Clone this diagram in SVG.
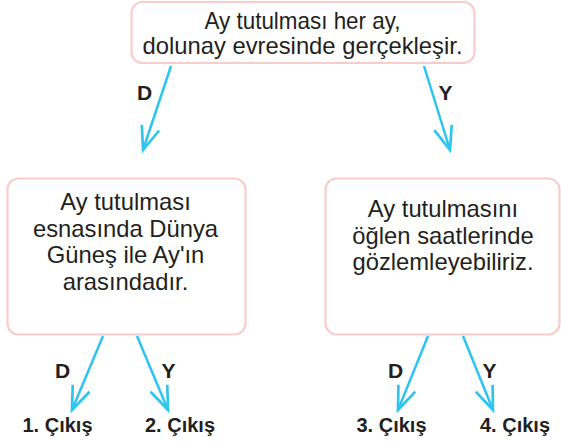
<svg xmlns="http://www.w3.org/2000/svg" width="561" height="443" viewBox="0 0 561 443">
<style>
.box{fill:#ffffff;stroke:#f9cccc;stroke-width:2.2}
.t{font-family:"Liberation Sans",Arial,sans-serif;font-size:23.8px;fill:#231f20;text-anchor:middle}
.tt{font-size:23.2px}
.b{font-family:"Liberation Sans",Arial,sans-serif;font-weight:bold;fill:#231f20;text-anchor:middle}
.lbl{font-size:21px}
.out{font-size:20px}
.arr{stroke:#2ec4f0;stroke-width:2.5;fill:none;marker-end:url(#ah)}
</style>
<defs>
<marker id="ah" markerUnits="userSpaceOnUse" markerWidth="30" markerHeight="30" viewBox="-25 -12 28 24" refX="0" refY="0" orient="auto">
<path d="M-22,-8.5 L0,0 L-22,8.5" fill="none" stroke="#2ec4f0" stroke-width="2.5" stroke-linejoin="miter"/>
</marker>
</defs>
<rect width="561" height="443" fill="#ffffff"/>
<g id="top">
<rect class="box" x="131.5" y="2" width="343" height="61" rx="11"/>
<text class="t tt" x="302.5" y="29" textLength="196" lengthAdjust="spacingAndGlyphs">Ay tutulması her ay,</text>
<text class="t tt" x="302.5" y="54" textLength="320" lengthAdjust="spacingAndGlyphs">dolunay evresinde gerçekleşir.</text>
</g>
<g id="left">
<rect class="box" x="7.5" y="178.5" width="238" height="156" rx="11"/>
<text class="t" x="125.5" y="210">Ay tutulması</text>
<text class="t" x="125.5" y="236.5">esnasında Dünya</text>
<text class="t" x="125.5" y="263">Güneş ile Ay'ın</text>
<text class="t" x="125.5" y="289.5">arasındadır.</text>
</g>
<g id="right">
<rect class="box" x="325.5" y="178.5" width="234" height="156" rx="11"/>
<text class="t" x="443" y="217">Ay tutulmasını</text>
<text class="t" x="443" y="243.5">öğlen saatlerinde</text>
<text class="t" x="443" y="270">gözlemleyebiliriz.</text>
</g>
<g id="out1"><text class="b out" x="57.5" y="432">1. Çıkış</text></g>
<g id="out2"><text class="b out" x="180" y="432">2. Çıkış</text></g>
<g id="out3"><text class="b out" x="391.5" y="432">3. Çıkış</text></g>
<g id="out4"><text class="b out" x="515" y="432">4. Çıkış</text></g>
<g id="connectors">
<line class="arr" x1="171" y1="66" x2="143" y2="150"/>
<line class="arr" x1="424" y1="66" x2="450" y2="150"/>
<line class="arr" x1="103" y1="336" x2="72" y2="410"/>
<line class="arr" x1="137" y1="336" x2="168" y2="410"/>
<line class="arr" x1="428" y1="336" x2="398" y2="410"/>
<line class="arr" x1="463" y1="336" x2="493" y2="410"/>
<text class="b lbl" x="144.5" y="99.5">D</text>
<text class="b lbl" x="445.5" y="99.5">Y</text>
<text class="b lbl" x="62.5" y="378">D</text>
<text class="b lbl" x="168.5" y="378">Y</text>
<text class="b lbl" x="395.5" y="378">D</text>
<text class="b lbl" x="489.5" y="378">Y</text>
</g>
</svg>
